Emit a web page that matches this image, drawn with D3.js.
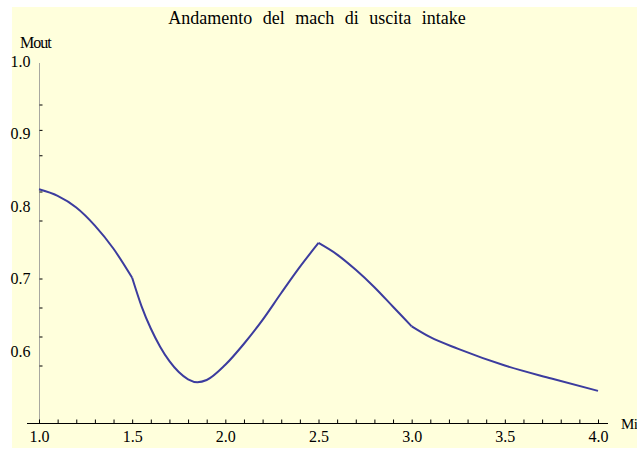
<!DOCTYPE html>
<html>
<head>
<meta charset="utf-8">
<script src="https://cdn.jsdelivr.net/npm/d3@7"></script>
<style>
body { margin: 0; background: #fff; }
text { font-family: "Liberation Serif", "DejaVu Serif", serif; fill: #000; }
</style>
</head>
<body>
<div id="chart"></div>
<script>
// numero di Mach in ingresso
var mach = [1.0, 1.1, 1.2, 1.3, 1.4, 1.5,
            1.55, 1.6, 1.65, 1.7, 1.75, 1.8, 1.85, 1.9, 2.0, 2.1, 2.2, 2.3, 2.4, 2.5,
            2.6, 2.7, 2.8, 2.9, 3.0,
            3.1, 3.25, 3.5, 3.75, 4.0];
// mach di uscita
var mout = [0.823, 0.814, 0.798, 0.773, 0.741, 0.701,
            0.662, 0.631, 0.606, 0.586, 0.571, 0.561, 0.557, 0.560, 0.581, 0.610, 0.643, 0.680, 0.716, 0.749,
            0.733, 0.712, 0.688, 0.661, 0.634,
            0.619, 0.603, 0.580, 0.562, 0.545];
// punti angolosi della curva
var breaks = [1.5, 2.5, 3.0];

var xMajor = [1.0, 1.5, 2.0, 2.5, 3.0, 3.5, 4.0];
var xMinor = d3.range(1.0, 4.001, 0.1);
var yMajor = [0.6, 0.7, 0.8, 0.9, 1.0];
var yMinor = [0.58, 0.62, 0.66, 0.70, 0.78, 0.82, 0.87, 0.905, 0.94];

var title = "Andamento del mach di uscita intake";
var xLabel = "Min";
var yLabel = "Mout";

var w = 637, h = 450;

var svg = d3.select("#chart").append("svg")
    .attr("width", w)
    .attr("height", h);

// sfondo giallino
svg.append("rect")
    .attr("x", 12).attr("y", 7)
    .attr("width", w - 12).attr("height", 441)
    .attr("fill", "#ffffdc");

var x = d3.scaleLinear().domain([1, 4]).range([39, 598]);
var y = d3.scaleLinear().domain([0.5, 1.0]).range([423.5, 61]);

// asse y
svg.append("line")
    .attr("x1", x(1) + 0.5).attr("x2", x(1) + 0.5)
    .attr("y1", y(1.0) + 2).attr("y2", y(0.5))
    .attr("stroke", "#a8a8a0").attr("stroke-width", 1);

var yTicks = svg.append("g")
    .attr("transform", "translate(" + (x(1) + 0.5) + ",0)")
    .call(d3.axisRight(y).tickValues(yMinor).tickSize(3).tickFormat(""));
yTicks.select(".domain").remove();
yTicks.selectAll("line").attr("stroke", "#000");

var yLab = svg.append("g")
    .attr("transform", "translate(" + (x(1) + 0.5) + ",0)")
    .call(d3.axisLeft(y).tickValues(yMajor).tickSize(0).tickPadding(9).tickFormat(d3.format(".1f")));
yLab.select(".domain").remove();
yLab.selectAll("text").attr("font-size", 16).attr("font-family", "Liberation Serif").attr("fill", "#000");

// asse x
svg.append("line")
    .attr("x1", x(1) - 12).attr("x2", x(4) + 10)
    .attr("y1", y(0.5)).attr("y2", y(0.5))
    .attr("stroke", "#000").attr("stroke-width", 1);

var xTicks = svg.append("g")
    .attr("transform", "translate(0," + y(0.5) + ")")
    .call(d3.axisTop(x).tickValues(xMinor).tickSize(4).tickFormat(""));
xTicks.select(".domain").remove();
xTicks.selectAll("line").attr("stroke", "#000");

var xLab = svg.append("g")
    .attr("transform", "translate(0," + y(0.5) + ")")
    .call(d3.axisBottom(x).tickValues(xMajor).tickSize(0).tickPadding(7).tickFormat(d3.format(".1f")));
xLab.select(".domain").remove();
xLab.selectAll("text").attr("font-size", 16).attr("font-family", "Liberation Serif").attr("fill", "#000");

// curva a tratti, spezzata nei punti angolosi
var data = mach.map(function(d, i) { return {m: d, v: mout[i]}; });
var cuts = [1.0].concat(breaks).concat([4.0]);
var line = d3.line()
    .x(function(d) { return x(d.m); })
    .y(function(d) { return y(d.v); })
    .curve(d3.curveMonotoneX);

for (var i = 0; i < cuts.length - 1; i++) {
    var seg = data.filter(function(d) { return d.m >= cuts[i] - 1e-9 && d.m <= cuts[i + 1] + 1e-9; });
    svg.append("path")
        .attr("d", line(seg))
        .attr("fill", "none")
        .attr("stroke", "#3c3c9e")
        .attr("stroke-width", 2)
        .attr("stroke-linejoin", "round");
}

// titolo ed etichette
svg.append("text")
    .attr("x", 317).attr("y", 24)
    .attr("text-anchor", "middle")
    .attr("font-size", 18)
    .attr("word-spacing", 6)
    .text(title);

svg.append("text")
    .attr("x", 20).attr("y", 48)
    .attr("font-size", 16)
    .attr("letter-spacing", -1)
    .text(yLabel);

// l'etichetta dell'asse x è tagliata dal bordo come nell'originale
svg.append("text")
    .attr("x", 621).attr("y", 429)
    .attr("font-size", 15)
    .attr("letter-spacing", -0.5)
    .text(xLabel);
</script>
</body>
</html>
